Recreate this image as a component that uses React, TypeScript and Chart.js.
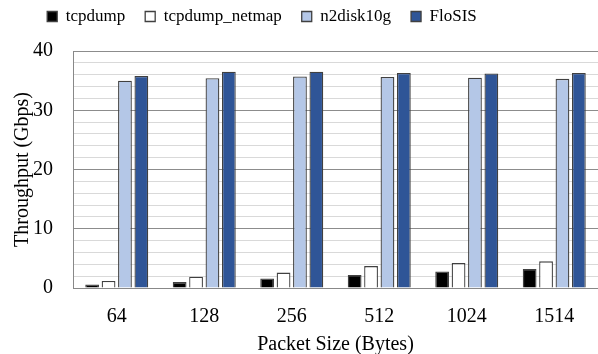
import React, { useEffect, useRef } from "react";
import { Chart, registerables } from "chart.js";

Chart.register(...registerables);

const categories = ["64", "128", "256", "512", "1024", "1514"];
const tcpdump = [0.6, 1.0, 1.6, 2.2, 2.8, 3.2];
const tcpdumpNetmap = [1.2, 1.9, 2.6, 3.7, 4.2, 4.5];
const n2disk10g = [35.0, 35.4, 35.7, 35.6, 35.5, 35.3];
const floSIS = [35.8, 36.5, 36.5, 36.3, 36.2, 36.3];

const FONT = '"Liberation Serif", "Times New Roman", serif';

const legendTweak = {
  id: "legendTweak",
  beforeUpdate(chart: any) {
    const lg = chart.legend;
    if (lg && !lg.__patched) {
      const orig = lg.fit.bind(lg);
      lg.fit = function () {
        orig();
        this.height += 16;
      };
      lg.__patched = true;
    }
  },
  afterLayout(chart: any) {
    const lg = chart.legend;
    if (lg) {
      lg.left -= 34;
      lg.right -= 34;
    }
  },
};

export default function App() {
  const ref = useRef<HTMLCanvasElement | null>(null);

  useEffect(() => {
    document.body.style.margin = "0";
    const canvas = ref.current;
    if (!canvas) return;
    let chart: any = null;
    let cancelled = false;
    const build = () => {
      if (cancelled) return;
      const border = "#404040";
      const common = {
        borderColor: border,
        borderWidth: 1.3,
        categoryPercentage: 0.75,
        barPercentage: 0.84,
      };
      chart = new Chart(canvas, {
        type: "bar",
        data: {
          labels: categories,
          datasets: [
            { label: "tcpdump", data: tcpdump, backgroundColor: "#000000", ...common },
            { label: "tcpdump_netmap", data: tcpdumpNetmap, backgroundColor: "#ffffff", ...common },
            { label: "n2disk10g", data: n2disk10g, backgroundColor: "#b4c7e7", ...common },
            { label: "FloSIS", data: floSIS, backgroundColor: "#2f5597", ...common },
          ],
        },
        plugins: [legendTweak],
        options: {
          animation: false,
          responsive: false,
          maintainAspectRatio: false,
          layout: { padding: { left: -6, right: 0, top: -12, bottom: -3 } },
          plugins: {
            tooltip: { enabled: false },
            legend: {
              position: "top",
              labels: {
                color: "#000",
                font: { family: FONT, size: 17 },
                boxWidth: 10,
                boxHeight: 10,
                padding: 20,
              },
            },
          },
          scales: {
            x: {
              grid: { display: false, drawTicks: false },
              border: { display: true, color: "#888888", width: 1 },
              ticks: { color: "#000", font: { family: FONT, size: 20 }, padding: 17 },
              title: {
                display: true,
                text: "Packet Size (Bytes)",
                color: "#000",
                font: { family: FONT, size: 20 },
                padding: { top: -13, bottom: 0 },
              },
            },
            y: {
              min: 0,
              max: 40,
              grid: {
                drawTicks: false,
                color: (ctx: any) => {
                  const v = ctx.tick ? ctx.tick.value : 0;
                  return v % 10 === 0 ? "#8c8c8c" : "#d9d9d9";
                },
                lineWidth: 1,
              },
              border: { display: true, color: "#888888", width: 1 },
              ticks: {
                stepSize: 2,
                autoSkip: false,
                color: "#000",
                font: { family: FONT, size: 20 },
                padding: 20,
                callback: (v: any) => (Number(v) % 10 === 0 ? String(v) : ""),
              },
              title: {
                display: true,
                text: "Throughput (Gbps)",
                color: "#000",
                font: { family: FONT, size: 20 },
                padding: { top: 17, bottom: -22 },
              },
            },
          },
        },
      });
    };
    const fonts: any = (document as any).fonts;
    if (fonts && fonts.load) {
      fonts.load('20px "Liberation Serif"').then(build, build);
    } else {
      build();
    }
    return () => {
      cancelled = true;
      if (chart) chart.destroy();
    };
  }, []);

  return (
    <div style={{ width: 598, height: 354 }}>
      <canvas ref={ref} width={598} height={354} style={{ display: "block" }} />
    </div>
  );
}
